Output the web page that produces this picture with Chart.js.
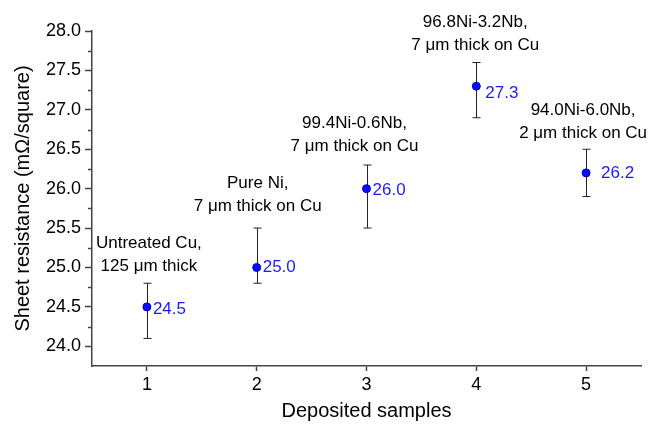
<!DOCTYPE html>
<html>
<head>
<meta charset="utf-8">
<script src="https://cdn.jsdelivr.net/npm/chart.js@4"></script>
<style>
  body { margin: 0; background: #fff; }
  canvas { display: block; }
</style>
</head>
<body>
<canvas id="myChart" width="652" height="424"></canvas>
<script>
// data
const samples = [1, 2, 3, 4, 5];
const resistance = [24.5, 25.0, 26.0, 27.3, 26.2];
const errTop = [24.8, 25.5, 26.3, 27.6, 26.5];
const errBottom = [24.1, 24.8, 25.5, 26.9, 25.9];
const noteLine1 = ['Untreated Cu,', 'Pure Ni,', '99.4Ni-0.6Nb,', '96.8Ni-3.2Nb,', '94.0Ni-6.0Nb,'];
const noteLine2 = ['125 \u03bcm thick', '7 \u03bcm thick on Cu', '7 \u03bcm thick on Cu', '7 \u03bcm thick on Cu', '2 \u03bcm thick on Cu'];
const yTicks = [24.0, 24.5, 25.0, 25.5, 26.0, 26.5, 27.0, 27.5, 28.0];
const yMinorTicks = [24.25, 24.75, 25.25, 25.75, 26.25, 26.75, 27.25, 27.75];

// placement of the texts (layout only)
const noteAt = [25.31, 26.07, 26.83, 28.11, 27.0];   // y value of first line
const noteDx = [2, 1, -12, -1, -3];
const valueDx = [6, 6, 6, 9, 15];
const valueDy = [2, 0, 2, 7, 0];

const FONT = "'Liberation Sans', Arial, Helvetica, sans-serif";
const axisColor = '#444';

const errorBars = {
	id: 'errorBars',
	beforeDatasetsDraw(chart){
		const {ctx, scales: {x, y}} = chart;
		ctx.save();
		ctx.strokeStyle = '#222';
		ctx.lineWidth = 1;
		for(let i = 0; i < samples.length; i++){
			const px = Math.round(x.getPixelForValue(samples[i])) + 0.5;
			const t = y.getPixelForValue(errTop[i]);
			const b = y.getPixelForValue(errBottom[i]);
			ctx.beginPath();
			ctx.moveTo(px, t); ctx.lineTo(px, b);
			ctx.moveTo(px - 4, t); ctx.lineTo(px + 4, t);
			ctx.moveTo(px - 4, b); ctx.lineTo(px + 4, b);
			ctx.stroke();
		}
		ctx.restore();
	}
};

const texts = {
	id: 'texts',
	afterDraw(chart){
		const {ctx, scales: {x, y}} = chart;
		ctx.save();
		// minor ticks on y axis
		ctx.strokeStyle = axisColor;
		ctx.lineWidth = 1.5;
		const left = chart.chartArea.left;
		yMinorTicks.forEach(v => {
			const py = Math.round(y.getPixelForValue(v)) + 0.5;
			ctx.beginPath();
			ctx.moveTo(left, py); ctx.lineTo(left - 4, py);
			ctx.stroke();
		});
		ctx.textBaseline = 'middle';
		// value labels
		ctx.fillStyle = '#1a1aff';
		ctx.font = '17px ' + FONT;
		ctx.textAlign = 'left';
		for(let i = 0; i < samples.length; i++){
			const px = x.getPixelForValue(samples[i]);
			const py = y.getPixelForValue(resistance[i]);
			ctx.fillText(resistance[i].toFixed(1), px + valueDx[i], py + valueDy[i]);
		}
		// sample notes
		ctx.fillStyle = '#000';
		ctx.font = '17px ' + FONT;
		ctx.textAlign = 'center';
		for(let i = 0; i < samples.length; i++){
			const px = x.getPixelForValue(samples[i]) + noteDx[i];
			const py = y.getPixelForValue(noteAt[i]);
			ctx.fillText(noteLine1[i], px, py);
			ctx.fillText(noteLine2[i], px, py + 23);
		}
		ctx.restore();
	}
};

const ctx = document.getElementById('myChart').getContext('2d');
const myChart = new Chart(ctx, {
	type: 'scatter',
	data: {
		datasets: [{
			data: samples.map((s, i) => ({x: s, y: resistance[i]})),
			pointRadius: 4,
			backgroundColor: '#0a0aff',
			borderColor: '#0000c0',
			borderWidth: 1
		}]
	},
	options: {
		responsive: false,
		animation: false,
		devicePixelRatio: 1,
		layout: { padding: { left: 0, right: 11, top: 31, bottom: 0 } },
		plugins: { legend: { display: false }, tooltip: { enabled: false } },
		scales: {
			x: {
				type: 'linear',
				min: 0.5,
				max: 5.5,
				afterBuildTicks: s => { s.ticks = samples.map(v => ({value: v})); },
				afterFit: s => { s.height = 58; },
				ticks: { color: '#000', font: { family: FONT, size: 18 }, padding: 3 },
				grid: { drawOnChartArea: false, tickLength: 5, tickColor: axisColor, tickWidth: 1.5 },
				border: { color: axisColor, width: 1.5 },
				title: { display: true, text: 'Deposited samples', color: '#000',
					font: { family: FONT, size: 20 }, padding: { top: 0, bottom: 1 } }
			},
			y: {
				min: 23.75,
				max: 28.0,
				afterBuildTicks: s => { s.ticks = yTicks.map(v => ({value: v})); },
				afterFit: s => { s.width = 92; },
				ticks: { color: '#000', font: { family: FONT, size: 18 }, padding: 4,
					callback: v => v.toFixed(1) },
				grid: { drawOnChartArea: false, tickLength: 7, tickColor: axisColor, tickWidth: 1.5 },
				border: { color: axisColor, width: 1.5 },
				title: { display: true, text: 'Sheet resistance (m\u03a9/square)', color: '#000',
					font: { family: FONT, size: 20 }, padding: { top: 11, bottom: 0 } }
			}
		}
	},
	plugins: [errorBars, texts]
});
</script>
</body>
</html>
